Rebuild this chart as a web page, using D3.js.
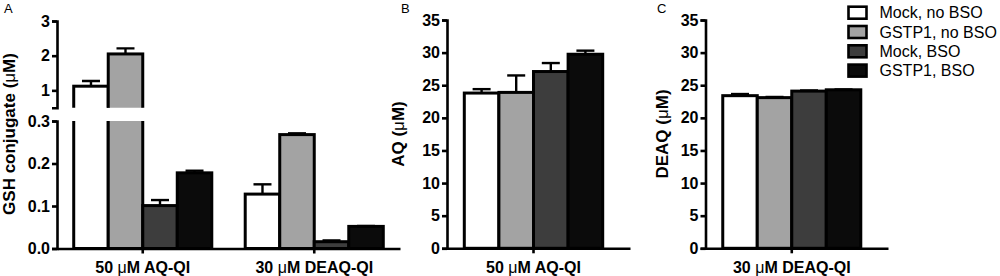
<!DOCTYPE html>
<html><head><meta charset="utf-8">
<script src="https://cdn.jsdelivr.net/npm/d3@7"></script>
<style>
body{margin:0;background:#fff;}
svg{display:block;font-family:"Liberation Sans",Arial,sans-serif;}
.tick text{font-weight:700;}
</style></head>
<body><svg id="c" width="1000" height="276"></svg>
<script>
// ---- data ----
const seriesNames = ["Mock, no BSO", "GSTP1, no BSO", "Mock, BSO", "GSTP1, BSO"];
const seriesColors = ["#ffffff", "#a3a3a3", "#3d3d3d", "#0b0b0b"];
const groupsA = ["50 μM AQ-QI", "30 μM DEAQ-QI"];
const meanA_AQ = [1.12, 2.05, 0.101, 0.178];
const errA_AQ = [0.15, 0.16, 0.013, 0.005];
const meanA_DEAQ = [0.128, 0.268, 0.016, 0.052];
const errA_DEAQ = [0.023, 0.003, 0.003, 0.001];
const groupB = ["50 μM AQ-QI"];
const meanB = [23.8, 23.9, 27.1, 29.75];
const errB = [0.6, 2.6, 1.3, 0.55];
const groupC = ["30 μM DEAQ-QI"];
const meanC = [23.4, 23.1, 24.1, 24.3];
const errC = [0.25, 0.1, 0.1, 0.05];
const ticksAUpper = [1, 2, 3];
const ticksALower = [0, 0.1, 0.2, 0.3];
const ticksBC = [0, 5, 10, 15, 20, 25, 30, 35];
const titleA = "GSH conjugate (μM)", titleB = "AQ (μM)", titleC = "DEAQ (μM)";
const panelLetters = ["A", "B", "C"];

// ---- drawing ----
const svg = d3.select("#c");
const FONT = "16px";
const AXW = 2.6, BARW = 3, ERRW = 2.4;

function styleAxis(g) {
  g.attr("font-family", null).attr("font-size", null);
  g.selectAll("path,line").attr("stroke", "#000").attr("stroke-width", AXW);
  g.selectAll("text").style("font-size", FONT).style("font-weight", "700")
    .attr("fill", "#000").style("font-family", '"Liberation Sans",Arial,sans-serif');
}
function muText(sel, str) {
  const parts = str.split("μ");
  sel.text(null);
  parts.forEach((p, i) => {
    if (i > 0) sel.append("tspan").style("font-weight", "400").text("μ");
    sel.append("tspan").text(p);
  });
}
function yTitle(x, y, str) {
  const t = svg.append("text").attr("transform", `translate(${x},${y}) rotate(-90)`)
    .attr("text-anchor", "middle").style("font-size", "17px").style("font-weight", "700");
  muText(t, str);
}
function xAxis(xOuter, y0) {
  const g = svg.append("g").attr("transform", `translate(0,${y0})`)
    .call(d3.axisBottom(xOuter).tickSize(5).tickSizeOuter(0).tickPadding(8));
  styleAxis(g);
  g.selectAll(".tick text").style("font-size", "16px").each(function(d) { muText(d3.select(this), d); });
}
function drawBars(xOuter, groups, means, errs, yScale, bottomY, clipTop, clipBottom, id) {
  svg.append("clipPath").attr("id", id).append("rect")
    .attr("x", 0).attr("y", clipTop).attr("width", 1000).attr("height", clipBottom - clipTop);
  const x1 = d3.scaleBand().domain(seriesNames).range([0, xOuter.bandwidth()]).padding(0);
  const g = svg.append("g").attr("clip-path", `url(#${id})`);
  groups.forEach((grp, gi) => {
    seriesNames.forEach((s, si) => {
      const v = means[gi][si], e = errs[gi][si];
      const top = yScale(v);
      if (top >= bottomY) return;
      const x = xOuter(grp) + x1(s);
      g.append("rect").attr("x", x).attr("y", top).attr("width", x1.bandwidth())
        .attr("height", bottomY - top).attr("fill", seriesColors[si])
        .attr("stroke", "#000").attr("stroke-width", BARW);
      const cx = x + x1.bandwidth() / 2, ye = yScale(v + e);
      g.append("line").attr("x1", cx).attr("x2", cx).attr("y1", top).attr("y2", ye)
        .attr("stroke", "#000").attr("stroke-width", ERRW);
      g.append("line").attr("x1", cx - 9).attr("x2", cx + 9).attr("y1", ye).attr("y2", ye)
        .attr("stroke", "#000").attr("stroke-width", ERRW);
    });
  });
}

// Panel A (broken axis)
const xA = d3.scaleBand().domain(groupsA).range([57, 400]).paddingInner(0.195).paddingOuter(0.0975);
const yAU = d3.scaleLinear().domain([0.5, 3]).range([107.7, 21]);
const yAL = d3.scaleLinear().domain([0, 0.3]).range([248.5, 121]);
drawBars(xA, groupsA, [meanA_AQ, meanA_DEAQ], [errA_AQ, errA_DEAQ], yAU, 120, 0, 107.7, "clipAU");
drawBars(xA, groupsA, [meanA_AQ, meanA_DEAQ], [errA_AQ, errA_DEAQ], yAL, 248.5, 121, 260, "clipAL");
styleAxis(svg.append("g").attr("transform", "translate(57,0)")
  .call(d3.axisLeft(yAU).tickValues(ticksAUpper).tickSize(5).tickSizeOuter(5).tickPadding(2).tickFormat(d3.format("d"))));
styleAxis(svg.append("g").attr("transform", "translate(57,0)")
  .call(d3.axisLeft(yAL).tickValues(ticksALower).tickSize(5).tickSizeOuter(5).tickPadding(2).tickFormat(d3.format(".1f"))));
xAxis(xA, 248.5);
yTitle(15, 134, titleA);

// Panel B
const xB = d3.scaleBand().domain(groupB).range([447, 630]).paddingInner(0).paddingOuter(0.1611).align(0.388);
const yBC = d3.scaleLinear().domain([0, 35]).range([248.3, 20]);
drawBars(xB, groupB, [meanB], [errB], yBC, 248.3, 0, 260, "clipB");
styleAxis(svg.append("g").attr("transform", "translate(447,0)")
  .call(d3.axisLeft(yBC).tickValues(ticksBC).tickSize(5).tickSizeOuter(5).tickPadding(2)));
xAxis(xB, 248.3);
yTitle(404, 134, titleB);

// Panel C
const xC = d3.scaleBand().domain(groupC).range([705.5, 888]).paddingInner(0).paddingOuter(0.1611).align(0.388);
drawBars(xC, groupC, [meanC], [errC], yBC, 248.3, 0, 260, "clipC");
styleAxis(svg.append("g").attr("transform", "translate(705.5,0)")
  .call(d3.axisLeft(yBC).tickValues(ticksBC).tickSize(5).tickSizeOuter(5).tickPadding(2)));
xAxis(xC, 248.3);
yTitle(668, 134, titleC);

// panel letters
[[4, 13], [401, 13], [657, 13]].forEach((p, i) => {
  svg.append("text").attr("x", p[0]).attr("y", p[1]).style("font-size", "13px").text(panelLetters[i]);
});

// legend
const lg = svg.append("g").attr("transform", "translate(848.5,0)");
seriesNames.forEach((s, i) => {
  const cy = 12.7 + i * 19.3;
  lg.append("rect").attr("x", 0).attr("y", cy - 6).attr("width", 18).attr("height", 12)
    .attr("fill", seriesColors[i]).attr("stroke", "#000").attr("stroke-width", 2.6);
  lg.append("text").attr("x", 31).attr("y", cy + 5.7).style("font-size", "16px").text(s);
});
</script></body></html>
